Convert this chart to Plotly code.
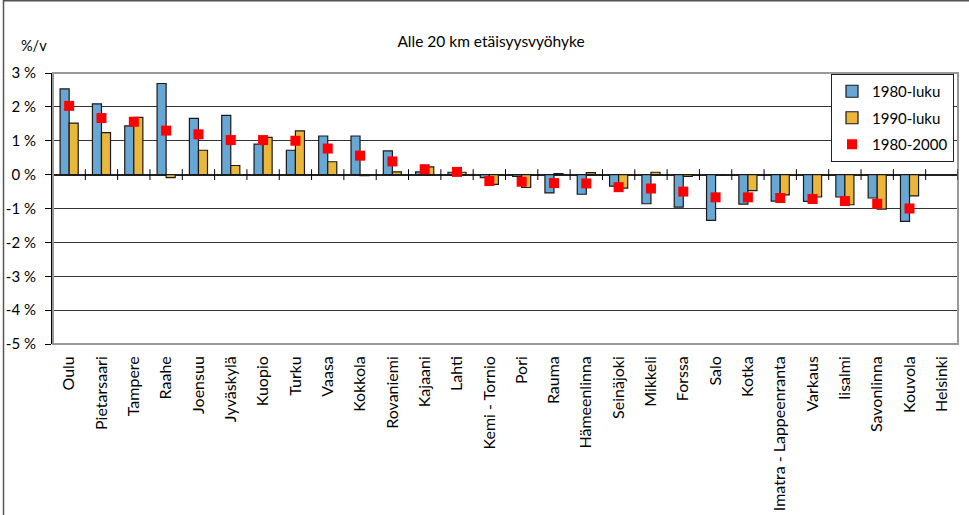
import plotly.graph_objects as go

categories = ["Oulu", "Pietarsaari", "Tampere", "Raahe", "Joensuu", "Jyväskylä", "Kuopio",
              "Turku", "Vaasa", "Kokkola", "Rovaniemi", "Kajaani", "Lahti", "Kemi - Tornio",
              "Pori", "Rauma", "Hämeenlinna", "Seinäjoki", "Mikkeli", "Forssa", "Salo", "Kotka",
              "Imatra - Lappeenranta", "Varkaus", "Iisalmi", "Savonlinna", "Kouvola", "Helsinki"]
v1980s = [2.53, 2.09, 1.44, 2.69, 1.66, 1.75, 0.90, 0.72, 1.14, 1.14, 0.70, 0.08, 0.07, -0.09,
          -0.05, -0.54, -0.58, -0.34, -0.86, -0.96, -1.35, -0.87, -0.78, -0.79, -0.66, -0.69, -1.38, None]
v1990s = [1.52, 1.24, 1.69, -0.09, 0.72, 0.27, 1.10, 1.29, 0.38, -0.03, 0.08, 0.23, 0.07, -0.29,
          -0.38, 0.03, 0.06, -0.40, 0.07, -0.05, -0.02, -0.47, -0.60, -0.66, -0.89, -1.02, -0.63, None]
v1980_2000 = [2.03, 1.67, 1.56, 1.30, 1.19, 1.02, 1.02, 1.00, 0.77, 0.56, 0.39, 0.16, 0.08, -0.19,
              -0.21, -0.25, -0.26, -0.37, -0.41, -0.50, -0.67, -0.67, -0.69, -0.72, -0.78, -0.86, -1.00, None]
ytick_vals = [3, 2, 1, 0, -1, -2, -3, -4, -5]
ytick_text = ["3 %", "2 %", "1 %", "0 %", "-1 %", "-2 %", "-3 %", "-4 %", "-5 %"]

FONT = "Lato"
W, H = 969, 515
L, R, T, B = 53, 11, 73, 171
pw, ph = W - L - R, H - T - B

def px_x(px):
    return (px - L) / pw

def px_y(py):
    return (H - B - py) / ph

fig = go.Figure()
fig.add_trace(go.Bar(x=categories, y=v1980s, name="1980-luku", legendgroup="a",
                     marker=dict(color="#68A7D3", line=dict(color="#1a1a1a", width=1.2))))
fig.add_trace(go.Bar(x=categories, y=v1990s, name="1990-luku", legendgroup="b",
                     marker=dict(color="#EBB73A", line=dict(color="#1a1a1a", width=1.2))))
fig.add_trace(go.Scatter(x=categories, y=v1980_2000, name="1980-2000", mode="markers", legendgroup="c",
                         marker=dict(symbol="square", size=10, color="#FF0000",
                                     line=dict(width=0))))

shapes = []
shapes.append(dict(type="rect", xref="paper", yref="paper", x0=0, x1=1, y0=0, y1=1,
                   line=dict(color="#999999", width=2), layer="above"))
for i in range(len(categories)):
    shapes.append(dict(type="line", xref="x", yref="y", x0=i + 0.5, x1=i + 0.5, y0=-0.16, y1=0.16,
                       line=dict(color="black", width=1), layer="above"))
shapes.append(dict(type="line", xref="paper", yref="paper", x0=px_x(3.5), x1=px_x(3.5),
                   y0=px_y(0), y1=px_y(H), line=dict(color="#555555", width=1.5)))
shapes.append(dict(type="line", xref="paper", yref="paper", x0=px_x(3.5), x1=px_x(W),
                   y0=px_y(0.8), y1=px_y(0.8), line=dict(color="#555555", width=1.5)))

fig.update_layout(
    width=W, height=H,
    margin=dict(l=L, r=R, t=T, b=B, pad=0, autoexpand=False),
    paper_bgcolor="white", plot_bgcolor="white",
    font=dict(family=FONT, size=14, color="black"),
    barmode="group", bargap=0.44, bargroupgap=0,
    title=dict(text="Alle 20 km etäisyysvyöhyke", x=491 / W, xanchor="center",
               y=1 - 42 / H, yanchor="middle", font=dict(family=FONT, size=15.5, color="black")),
    showlegend=True,
    legend=dict(x=px_x(831), y=px_y(74), xanchor="left", yanchor="top",
                bgcolor="white", bordercolor="#222222", borderwidth=1,
                font=dict(family=FONT, size=15, color="black"), tracegroupgap=4,
                traceorder="grouped", itemwidth=30),
    shapes=shapes,
    annotations=[dict(text="%/v", xref="paper", yref="paper", x=px_x(19), y=px_y(45),
                      xanchor="left", yanchor="middle", showarrow=False,
                      font=dict(family=FONT, size=14.5, color="black"))],
)
fig.update_xaxes(type="category", range=[-0.5, len(categories) - 0.5], showgrid=False,
                 showline=False, ticks="", tickangle=-90, ticklabelstandoff=8, automargin=False,
                 tickfont=dict(family=FONT, size=16, color="black"), zeroline=False)
fig.update_yaxes(range=[-5, 3], tickvals=ytick_vals, ticktext=ytick_text, showgrid=True,
                 gridcolor="#333333", gridwidth=1, zeroline=True, zerolinecolor="#222222",
                 zerolinewidth=1.5, showline=True, linecolor="black", linewidth=2,
                 ticks="outside", ticklen=6, tickcolor="black", tickwidth=1.2, automargin=False,
                 ticklabelstandoff=6, tickfont=dict(family=FONT, size=15, color="black"))

fig.write_html("out.html", post_script="document.body.style.margin='0';",
               config={"displayModeBar": False})
